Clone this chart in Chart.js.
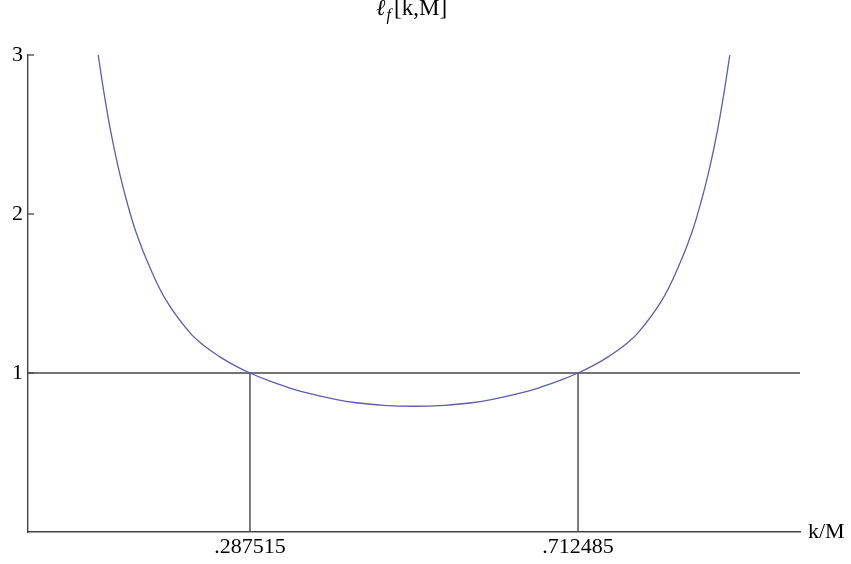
<!DOCTYPE html>
<html lang="en">
<head>
  <meta charset="UTF-8">
  <title>l_f[k,M]</title>
  <script src="https://cdn.jsdelivr.net/npm/chart.js"></script>
  <style>
    body {
      margin: 0;
      padding: 0;
      background: #fff;
    }
    .chart-box {
      width: 851px;
      height: 564px;
    }
  </style>
</head>
<body>
  <div class="chart-box">
    <canvas id="plot"></canvas>
  </div>

  <script>
    // curve: k/M and l_f
    const kValues = [0.0909, 0.0995, 0.1077, 0.1167, 0.1275, 0.1404, 0.1576, 0.1792, 0.2093, 0.229,
      0.2481, 0.268, 0.2875, 0.31, 0.335, 0.36, 0.40, 0.425, 0.46, 0.50,
      0.54, 0.575, 0.60, 0.64, 0.665, 0.69, 0.7125, 0.732, 0.7519, 0.771,
      0.7907, 0.8208, 0.8424, 0.8596, 0.8725, 0.8833, 0.8923, 0.9005, 0.9091];
    const lfValues = [3.0, 2.73, 2.505, 2.298, 2.088, 1.879, 1.667, 1.455, 1.255, 1.168,
      1.103, 1.046, 1.0, 0.955, 0.912, 0.876, 0.832, 0.813, 0.797, 0.791,
      0.797, 0.813, 0.832, 0.876, 0.912, 0.955, 1.0, 1.046, 1.103, 1.168,
      1.255, 1.455, 1.667, 1.879, 2.088, 2.298, 2.505, 2.73, 3.0];

    const crossings = [0.287515, 0.712485];
    const crossingLabels = ['.287515', '.712485'];
    const yTicks = [1, 2, 3];
    const level = 1;

    const serif = '"Liberation Serif", "DejaVu Serif", serif';
    const ink = '#444';

    const curve = kValues.map((k, i) => ({ x: k, y: lfValues[i] }));

    const datasets = [
      {
        data: curve,
        borderColor: '#5c5cb0',
        borderWidth: 1.3,
        pointRadius: 0,
        showLine: true,
        tension: 0.4
      },
      {
        data: [{ x: 0, y: level }, { x: 1, y: level }],
        borderColor: ink,
        borderWidth: 1.4,
        pointRadius: 0,
        showLine: true
      }
    ];
    crossings.forEach(c => {
      datasets.push({
        data: [{ x: c, y: 0 }, { x: c, y: level }],
        borderColor: ink,
        borderWidth: 1.4,
        pointRadius: 0,
        showLine: true
      });
    });

    // inward tick marks, axis label and title
    const extras = {
      id: 'extras',
      afterDraw(chart) {
        const ctx = chart.ctx;
        const xs = chart.scales.x, ys = chart.scales.y;
        const area = chart.chartArea;
        ctx.save();
        ctx.strokeStyle = ink;
        ctx.lineWidth = 1.3;
        yTicks.forEach(t => {
          const py = ys.getPixelForValue(t);
          ctx.beginPath();
          ctx.moveTo(area.left, py);
          ctx.lineTo(area.left + 6, py);
          ctx.stroke();
        });

        ctx.fillStyle = '#000';
        ctx.font = '22px ' + serif;
        ctx.textAlign = 'left';
        ctx.textBaseline = 'middle';
        ctx.fillText('k/M', area.right + 8, xs.top);

        // title l_f[k,M]
        ctx.textBaseline = 'alphabetic';
        let x = 376;
        const base = 15;
        ctx.font = 'italic 23px ' + serif;
        ctx.fillText('\u2113', x, base);
        x += ctx.measureText('\u2113').width + 1;
        ctx.font = 'italic 16px ' + serif;
        ctx.fillText('f', x, base + 5);
        x += ctx.measureText('f').width + 3;
        ctx.font = '23px ' + serif;
        ctx.fillText('[k,M]', x, base);
        ctx.restore();
      }
    };

    new Chart(document.getElementById('plot'), {
      type: 'scatter',
      data: { datasets: datasets },
      options: {
        responsive: true,
        maintainAspectRatio: false,
        animation: false,
        layout: { padding: { top: 55, right: 51, left: 0, bottom: 0 } },
        plugins: {
          legend: { display: false },
          tooltip: { enabled: false }
        },
        scales: {
          x: {
            type: 'linear',
            min: 0,
            max: 1,
            grid: { display: false, drawTicks: false },
            border: { display: true, color: ink, width: 1.4 },
            afterBuildTicks: s => { s.ticks = crossings.map(v => ({ value: v })); },
            afterFit: s => { s.height = 32; },
            ticks: {
              padding: 2,
              color: '#000',
              font: { family: serif, size: 22 },
              maxRotation: 0,
              callback: (v) => crossingLabels[crossings.indexOf(v)]
            }
          },
          y: {
            type: 'linear',
            min: 0,
            max: 3,
            grid: { display: false, drawTicks: false },
            border: { display: true, color: ink, width: 1.4 },
            afterBuildTicks: s => { s.ticks = yTicks.map(v => ({ value: v })); },
            afterFit: s => { s.width = 28; },
            ticks: {
              padding: 5,
              color: '#000',
              font: { family: serif, size: 22 },
              callback: v => String(v)
            }
          }
        }
      },
      plugins: [extras]
    });
  </script>
</body>
</html>
